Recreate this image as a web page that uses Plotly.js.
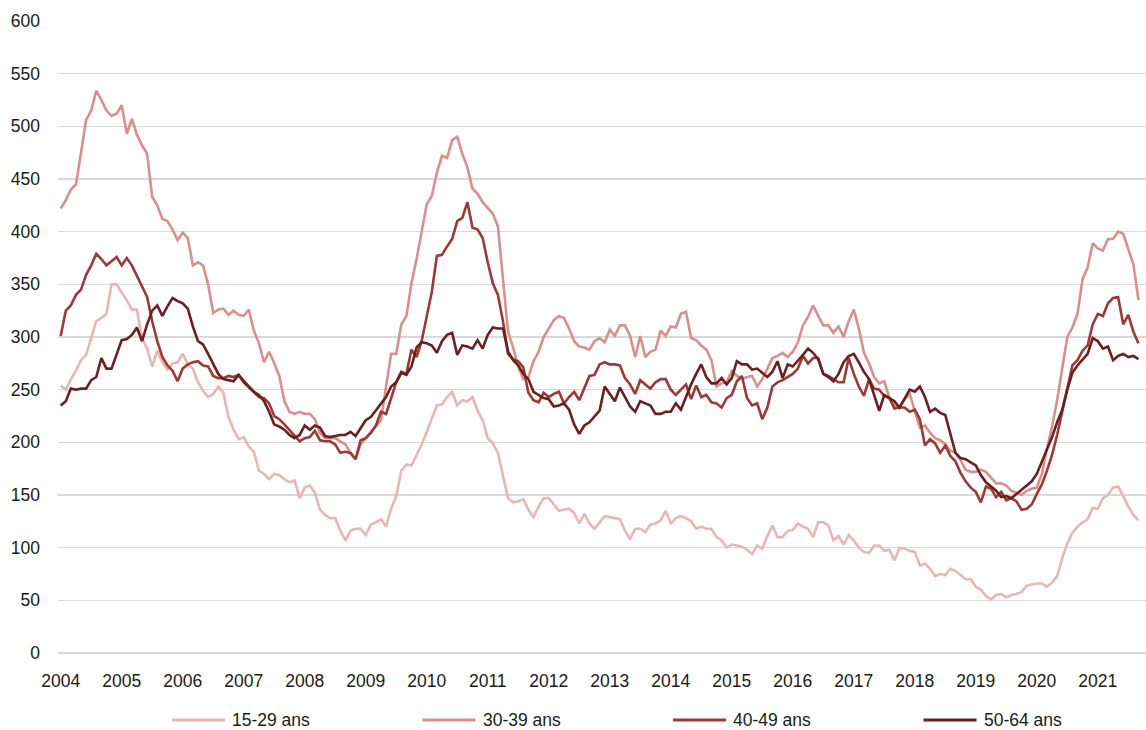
<!DOCTYPE html>
<html>
<head>
<meta charset="utf-8">
<script src="https://cdn.plot.ly/plotly-3.0.1.min.js"></script>
<style>html,body{margin:0;padding:0;background:#fff;}#chart{width:1146px;height:730px;}</style>
</head>
<body>
<div id="chart"></div>
<script>
// Monthly series, January 2004 to September 2021
const startYear = 2004;
const seriesNames = ["15-29 ans", "30-39 ans", "40-49 ans", "50-64 ans"];
const seriesColors = ["#e9b6b3", "#d9908b", "#9d3836", "#6b1f21"];
const tickYears = [2004,2005,2006,2007,2008,2009,2010,2011,2012,2013,2014,2015,2016,2017,2018,2019,2020,2021];

const age15_29 = [
254,250,260,268,278,283,299,315,318,322,350,350,342,335,326,326,299,289,272,287,276,269,275,276,284,274,270,257,249,243,246,253,247,224,212,203,
205,196,191,173,170,165,170,169,165,162,164,147,157,159,152,136,131,128,128,116,107,116,118,118,112,122,124,127,120,137,149,
173,179,178,188,198,210,222,235,236,243,248,235,240,239,243,230,221,204,199,190,168,147,143,144,146,136,129,139,147,147,141,135,136,137,133,123,132,123,118,124,
130,129,128,127,116,108,118,118,115,122,123,126,135,123,128,130,128,125,118,
120,118,118,110,107,100,103,102,101,98,94,102,99,111,121,110,110,116,117,123,120,118,110,124,124,121,107,111,103,112,107,100,96,95,102,102,97,98,88,100,99,97,96,83,85,80,73,75,74,80,78,
74,70,70,63,60,54,51,55,56,53,55,56,58,64,65,66,66,63,67,73,90,104,114,120,124,127,138,137,147,150,157,158,149,139,131,126
];

const age30_39 = [
422,430,440,445,475,506,515,534,525,515,510,512,520,493,507,492,482,474,433,425,412,410,402,392,399,394,368,371,368,350,323,326,327,321,325,321,
320,326,306,294,276,286,275,263,239,229,227,229,227,227,222,209,204,204,204,201,198,190,184,198,204,209,215,221,253,284,284,
312,320,351,374,400,426,434,456,472,470,487,490,474,461,441,436,428,422,417,405,351,305,290,272,260,262,277,286,300,308,316,320,318,308,296,291,290,288,296,299,
295,307,301,311,311,301,281,301,281,286,288,306,301,310,309,322,324,299,297,
292,288,278,253,256,257,268,263,260,262,263,253,260,270,280,282,285,281,286,295,311,319,330,320,311,311,304,310,300,315,326,308,285,275,262,256,258,242,235,234,241,246,230,214,216,209,204,202,198,192,190,
183,174,172,172,174,172,167,161,161,159,154,152,150,154,156,157,170,194,215,240,268,300,309,322,355,366,389,384,382,393,393,400,398,383,369,335
];

const age40_49 = [
301,325,330,340,345,359,368,379,374,368,372,376,368,375,368,358,348,338,315,296,281,273,268,258,270,274,276,277,273,272,263,261,261,263,262,264,
257,252,247,243,242,237,225,222,217,212,207,201,204,205,211,202,201,201,198,190,191,190,184,202,204,209,216,229,227,242,257,267,265,
288,281,296,319,343,377,378,386,393,410,413,428,404,402,394,371,351,340,315,284,279,277,271,247,240,238,247,243,246,248,237,243,248,240,252,263,264,274,
276,274,274,273,261,255,246,259,255,251,257,260,260,250,245,250,255,241,254,243,245,238,237,233,242,245,258,263,242,235,237,
222,233,253,257,259,262,265,270,282,275,280,280,265,263,260,257,257,280,265,253,244,260,251,250,244,242,232,233,233,229,231,222,197,203,199,190,197,187,182,
171,163,157,153,143,158,156,148,153,145,147,144,136,137,141,151,160,173,188,207,228,252,273,278,287,292,312,322,320,332,337,338,312,321,305,294
];

const age50_64 = [
235,239,251,250,251,251,259,262,280,270,270,283,297,298,302,309,296,312,325,330,320,329,337,334,332,327,310,296,293,284,275,265,260,259,258,264,
258,253,248,245,239,229,217,215,212,207,204,207,216,212,216,214,206,205,206,207,207,210,206,214,221,224,230,237,243,253,257,
266,264,272,290,295,294,292,285,296,302,304,283,292,291,289,297,289,302,309,308,308,286,278,273,265,260,248,245,242,241,234,235,237,231,217,208,216,219,224,230,
253,246,239,252,243,234,229,239,237,235,227,227,229,229,237,231,243,255,265,274,262,256,256,261,255,261,277,274,274,269,270,
266,262,267,277,261,274,272,277,283,289,285,279,265,262,258,265,276,282,284,276,267,260,246,230,245,242,239,233,241,250,248,253,243,229,232,228,226,207,190,
185,184,181,178,169,162,158,154,148,149,147,151,155,159,163,170,182,193,205,219,231,250,266,273,278,284,299,296,289,291,278,282,284,281,282,279
];

const allSeries = [age15_29, age30_39, age40_49, age50_64];

const W = 1146, H = 730;
const M = { l: 58, r: 0, t: 21, b: 77 };
const plotW = W - M.l - M.r, plotH = H - M.t - M.b;
const FONT = "'Liberation Sans', Arial, sans-serif";
const FSIZE = 17.5;

const traces = allSeries.map((vals, k) => ({
  type: "scatter",
  mode: "lines",
  name: seriesNames[k],
  x: vals.map((_, i) => startYear + i / 12),
  y: vals,
  line: { color: seriesColors[k], width: 2.6 },
  showlegend: false
}));

// Custom legend (library shapes + annotations), positioned in pixels converted to paper units
const px2x = p => (p - M.l) / plotW;
const px2y = p => (H - M.b - p) / plotH;
const legendY = 720, legendStart = 172, legendStep = 250.5, legendLine = 53, legendGap = 6;
const shapes = seriesNames.map((n, k) => ({
  type: "line", xref: "paper", yref: "paper", layer: "above",
  x0: px2x(legendStart + k * legendStep), x1: px2x(legendStart + k * legendStep + legendLine),
  y0: px2y(legendY), y1: px2y(legendY),
  line: { color: seriesColors[k], width: 2.8 }
}));
const annotations = seriesNames.map((n, k) => ({
  text: n, xref: "paper", yref: "paper", showarrow: false,
  x: px2x(legendStart + k * legendStep + legendLine + legendGap), xanchor: "left",
  y: px2y(legendY), yanchor: "middle",
  font: { family: FONT, size: FSIZE, color: "#1a1a1a" }, borderpad: 0
}));

const layout = {
  width: W,
  height: H,
  margin: M,
  paper_bgcolor: "#ffffff",
  plot_bgcolor: "#ffffff",
  font: { family: FONT, size: FSIZE, color: "#1a1a1a" },
  showlegend: false,
  shapes: shapes,
  annotations: annotations,
  xaxis: {
    type: "linear",
    range: [2003.956, 2021.79],
    tickvals: tickYears,
    ticktext: tickYears.map(String),
    showgrid: false,
    zeroline: false,
    showline: false,
    ticks: "",
    ticklabelstandoff: 15,
    tickfont: { family: FONT, size: FSIZE, color: "#1a1a1a" },
    fixedrange: true
  },
  yaxis: {
    range: [0, 600],
    dtick: 50,
    tick0: 0,
    showgrid: true,
    gridcolor: "#d9d9d9",
    gridwidth: 1.2,
    zeroline: true,
    zerolinecolor: "#d9d9d9",
    zerolinewidth: 1.2,
    showline: false,
    ticks: "",
    ticklabelstandoff: 17,
    tickfont: { family: FONT, size: FSIZE, color: "#1a1a1a" },
    fixedrange: true
  }
};

Plotly.newPlot("chart", traces, layout, { displayModeBar: false, staticPlot: true });
</script>
</body>
</html>
